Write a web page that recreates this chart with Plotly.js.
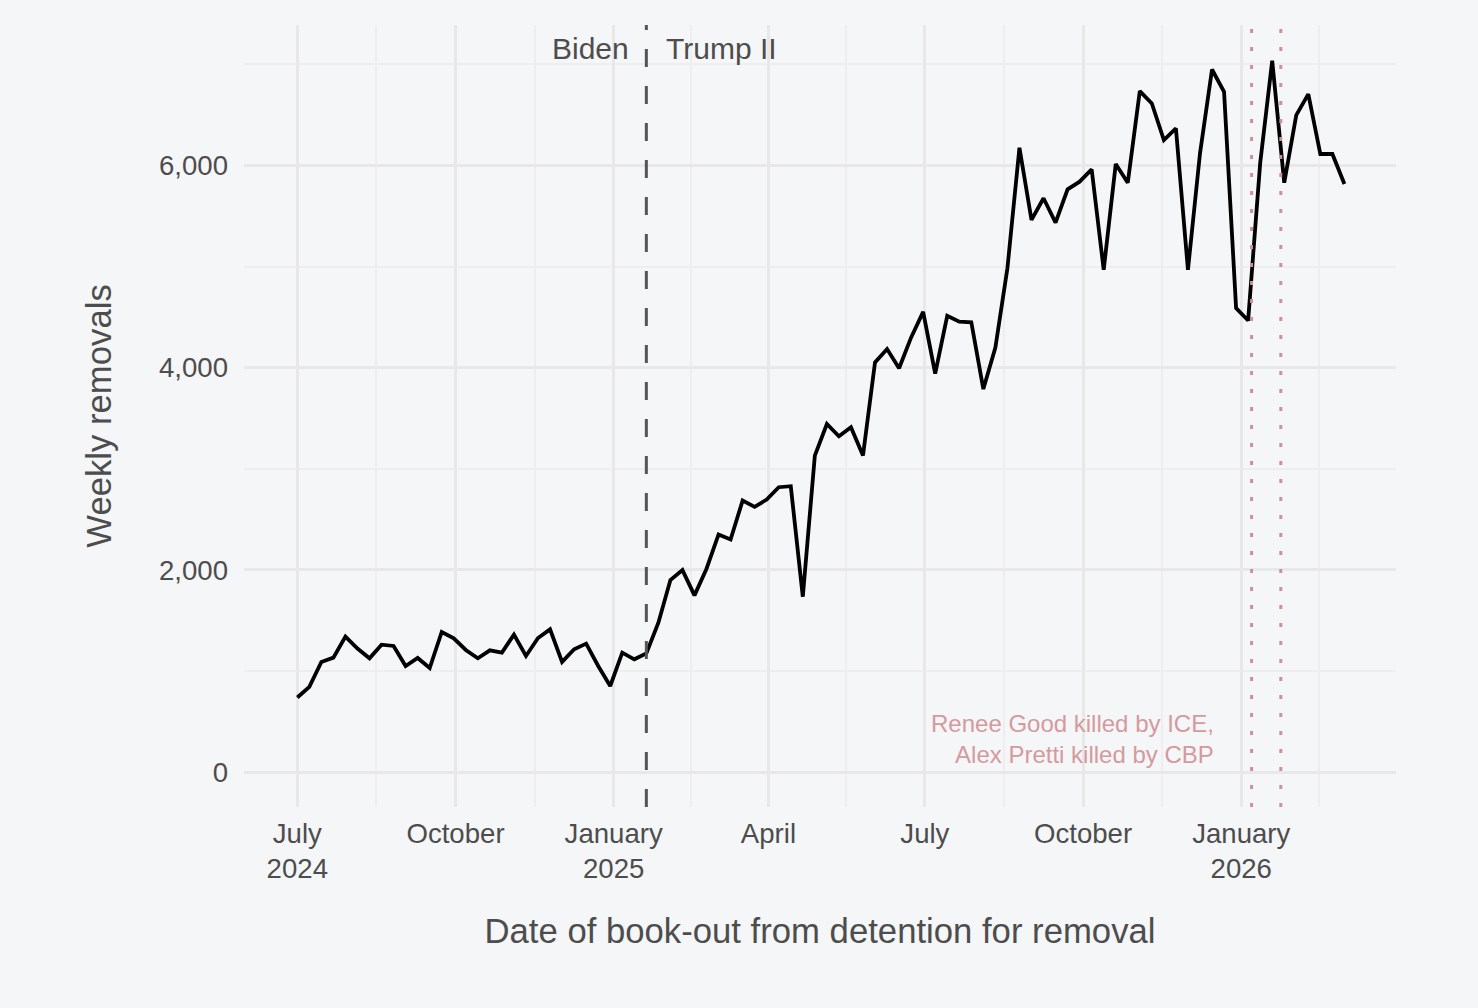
<!DOCTYPE html>
<html>
<head>
<meta charset="utf-8">
<script src="https://cdn.plot.ly/plotly-3.0.1.min.js"></script>
<style>
  html, body { margin: 0; padding: 0; background: #f5f6f7; }
  #removals-plot { width: 1478px; height: 1008px; }
</style>
</head>
<body>
<div id="removals-plot"></div>
<script>
// Weekly removals (book-outs from detention), weeks starting Monday
var firstWeek = '2024-07-01';
var removals = [
  738, 843, 1090, 1133, 1340, 1222, 1126, 1261, 1248, 1050,
  1129, 1030, 1386, 1323, 1208, 1126, 1205, 1182, 1360, 1149,
  1326, 1412, 1090, 1215, 1271, 1050, 852, 1182, 1116, 1175,
  1478, 1900, 1998, 1748, 2012, 2351, 2301, 2686, 2624, 2696,
  2818, 2828, 1735, 3131, 3443, 3322, 3411, 3131, 4053, 4185,
  3995, 4300, 4553, 3941, 4514, 4455, 4450, 3789, 4200, 4984,
  6176, 5462, 5676, 5436, 5765, 5840, 5962, 4968, 6015, 5830,
  6736, 6614, 6252, 6367, 4968, 6120, 6950, 6729, 4590, 4467,
  6022, 7036, 5830, 6499, 6706, 6114, 6114, 5817
];

var inauguration = '2025-01-20';
var eventDates = ['2026-01-07', '2026-01-24'];
var eventLabel = 'Renee Good killed by ICE,<br>Alex Pretti killed by CBP';

var tickDates = ['2024-07-01', '2024-10-01', '2025-01-01', '2025-04-01',
                 '2025-07-01', '2025-10-01', '2026-01-01'];
var tickLabels = ['July<br>2024', 'October', 'January<br>2025', 'April',
                  'July', 'October', 'January<br>2026'];
var minorDates = ['2024-05-16', '2024-08-16', '2024-11-16', '2025-02-15',
                  '2025-05-16', '2025-08-16', '2025-11-16', '2026-02-15'];

function addDays(iso, n) {
  var d = new Date(iso + 'T00:00:00Z');
  d.setUTCDate(d.getUTCDate() + n);
  return d.toISOString().slice(0, 10);
}

var weeks = removals.map(function(v, i) { return addDays(firstWeek, 7 * i); });

var txt = '#4d4d4d';
var font = 'Liberation Sans, Arial, sans-serif';

var shapes = [{
  type: 'line', xref: 'x', yref: 'paper',
  x0: inauguration, x1: inauguration, y0: 0, y1: 1,
  line: { color: '#555555', width: 3, dash: '18px,19px' }
}];
eventDates.forEach(function(d) {
  shapes.push({
    type: 'line', xref: 'x', yref: 'paper',
    x0: d, x1: d, y0: 0, y1: 1,
    line: { color: '#cf9095', width: 3, dash: '4px,14px' }
  });
});

var annotations = [
  { x: inauguration, y: 7160, text: 'Biden', showarrow: false,
    xanchor: 'right', xshift: -15, font: { size: 30, color: txt, family: font } },
  { x: inauguration, y: 7160, text: 'Trump II', showarrow: false,
    xanchor: 'left', xshift: 18, font: { size: 30, color: txt, family: font } },
  { x: eventDates[0], y: 330, text: eventLabel, showarrow: false,
    xanchor: 'right', align: 'right', xshift: -36,
    font: { size: 24, color: '#d49a9e', family: font } }
];

var trace = {
  x: weeks,
  y: removals,
  mode: 'lines',
  line: { color: '#000000', width: 3.8 },
  hovertemplate: '%{x}<br>%{y:,} removals<extra></extra>'
};

var layout = {
  width: 1478,
  height: 1008,
  paper_bgcolor: '#f5f6f7',
  plot_bgcolor: '#f5f6f7',
  showlegend: false,
  margin: { l: 244, r: 82, t: 25, b: 201 },
  font: { family: font, color: txt },
  xaxis: {
    type: 'date',
    range: ['2024-05-31', '2026-04-01'],
    tickmode: 'array',
    tickvals: tickDates,
    ticktext: tickLabels,
    tickfont: { size: 27.6, color: txt },
    ticks: '',
    ticklabelstandoff: 7,
    showgrid: true,
    gridcolor: '#e8e8e8',
    gridwidth: 2.5,
    zeroline: false,
    showline: false,
    minor: { tickmode: 'array', tickvals: minorDates, showgrid: true,
             gridcolor: '#eeeeee', gridwidth: 1.5, ticks: '' },
    title: { text: 'Date of book-out from detention for removal',
             font: { size: 34.7, color: txt }, standoff: 35 }
  },
  yaxis: {
    range: [-345, 7390],
    tickmode: 'array',
    tickvals: [0, 2000, 4000, 6000],
    ticktext: ['0', '2,000', '4,000', '6,000'],
    tickfont: { size: 27.6, color: txt },
    ticks: '',
    ticklabelstandoff: 15,
    showgrid: true,
    gridcolor: '#e8e8e8',
    gridwidth: 2.5,
    zeroline: false,
    showline: false,
    minor: { tickmode: 'array', tickvals: [1000, 3000, 5000, 7000], showgrid: true,
             gridcolor: '#eeeeee', gridwidth: 1.5, ticks: '' },
    title: { text: 'Weekly removals', font: { size: 34.7, color: txt }, standoff: 36 }
  },
  shapes: shapes,
  annotations: annotations
};

Plotly.newPlot('removals-plot', [trace], layout, { displayModeBar: false });
</script>
</body>
</html>
